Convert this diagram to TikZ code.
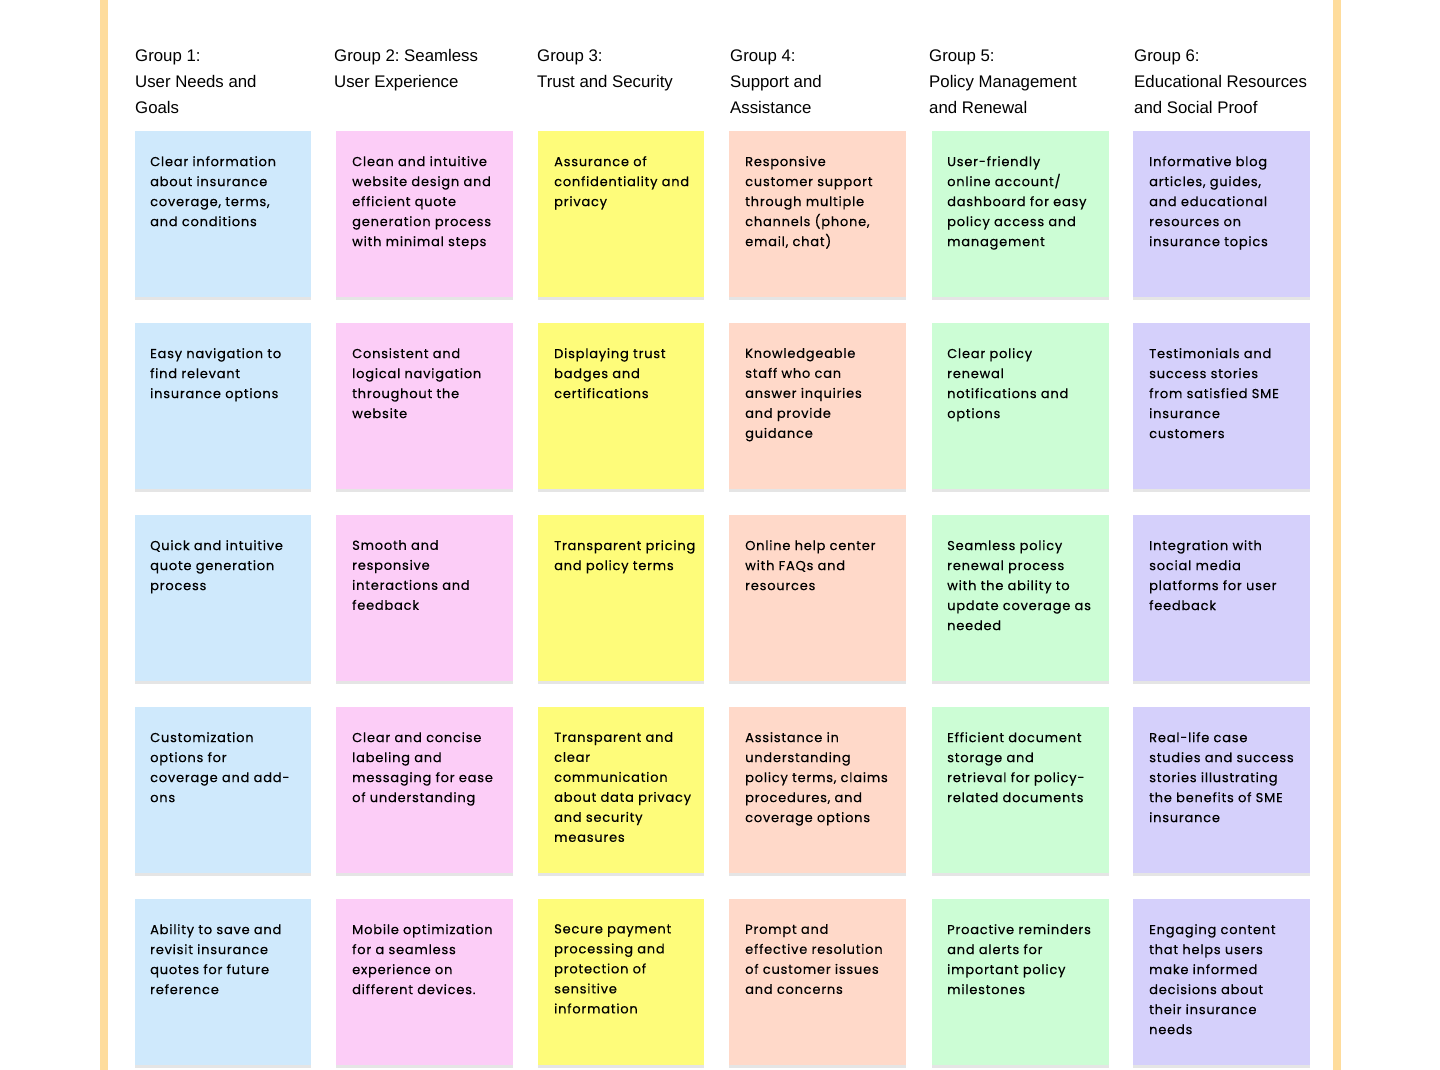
\documentclass[tikz,border=0pt]{standalone}
\usepackage{fontspec}
\setmainfont{Liberation Sans}
\newfontfamily\notefont[LetterSpace=6, FakeBold=0.35]{Poppins}
\usetikzlibrary{positioning, shadows}
\definecolor{barorange}{HTML}{FEDC9C}
\definecolor{noteblue}{HTML}{CFE9FC}
\definecolor{notepink}{HTML}{FCCDF7}
\definecolor{noteyellow}{HTML}{FEFC7A}
\definecolor{notepeach}{HTML}{FFD9C9}
\definecolor{notegreen}{HTML}{CCFDD5}
\definecolor{notepurple}{HTML}{D5D0FB}
\tikzset{
  sticky/.style={
    anchor=north west, minimum width=177pt, minimum height=166pt,
    inner sep=0pt, outer sep=0pt,
    drop shadow={shadow xshift=0pt, shadow yshift=-2.5pt, opacity=0.10, fill=black}
  },
  notetext/.style={
    inner sep=0pt, align=left, text=black,
    font=\notefont\fontsize{13}{20}\selectfont
  },
  grouphead/.style={
    anchor=north west, inner sep=0pt, align=left, text=black,
    font=\fontsize{16.8}{26}\selectfont
  },
}
\begin{document}
\frenchspacing
\begin{tikzpicture}[x=1pt, y=-1pt]
  \useasboundingbox (0,0) rectangle (1440,1070);
  \fill[white] (0,0) rectangle (1440,1070);
  \fill[barorange] (100,0) rectangle (108,1070);
  \fill[barorange] (1333,0) rectangle (1341,1070);

  % group titles
  \node[grouphead] (h1) at (135,49.5) {Group 1:\\User Needs and\\Goals};
  \node[grouphead] (h2) at (334,49.5) {Group 2: Seamless\\User Experience};
  \node[grouphead] (h3) at (537,49.5) {Group 3:\\Trust and Security};
  \node[grouphead] (h4) at (730,49.5) {Group 4:\\Support and\\Assistance};
  \node[grouphead] (h5) at (929,49.5) {Group 5:\\Policy Management\\and Renewal};
  \node[grouphead] (h6) at (1134,49.5) {Group 6:\\Educational Resources\\and Social Proof};

  % group 1
  \foreach \txt [count=\r] in {
      {Clear information\\about insurance\\coverage, terms,\\and conditions},
      {Easy navigation to\\find relevant\\insurance options},
      {Quick and intuitive\\quote generation\\process},
      {Customization\\options for\\coverage and add-\\ons},
      {Ability to save and\\revisit insurance\\quotes for future\\reference}} {
    \node[sticky, fill=noteblue, minimum width=176pt] (g1n\r) at (135,{131+192*(\r-1)}) {};
    \node[notetext, below right=25pt and 15pt of g1n\r.north west] (g1t\r) {\txt};
  }

  % group 2
  \foreach \txt [count=\r] in {
      {Clean and intuitive\\website design and\\efficient quote\\generation process\\with minimal steps},
      {Consistent and\\logical navigation\\throughout the\\website},
      {Smooth and\\responsive\\interactions and\\feedback},
      {Clear and concise\\labeling and\\messaging for ease\\of understanding},
      {Mobile optimization\\for a seamless\\experience on\\different devices.}} {
    \node[sticky, fill=notepink] (g2n\r) at (336,{131+192*(\r-1)}) {};
    \node[notetext, below right=25pt and 16pt of g2n\r.north west] (g2t\r) {\txt};
  }

  % group 3
  \foreach \txt [count=\r] in {
      {Assurance of\\confidentiality and\\privacy},
      {Displaying trust\\badges and\\certifications},
      {Transparent pricing\\and policy terms},
      {Transparent and\\clear\\communication\\about data privacy\\and security\\measures},
      {Secure payment\\processing and\\protection of\\sensitive\\information}} {
    \node[sticky, fill=noteyellow, minimum width=166pt] (g3n\r) at (538,{131+192*(\r-1)}) {};
    \node[notetext, below right=25pt and 16pt of g3n\r.north west] (g3t\r) {\txt};
  }

  % group 4
  \foreach \txt [count=\r] in {
      {Responsive\\customer support\\through multiple\\channels (phone,\\email, chat)},
      {Knowledgeable\\staff who can\\answer inquiries\\and provide\\guidance},
      {Online help center\\with FAQs and\\resources},
      {Assistance in\\understanding\\policy terms, claims\\procedures, and\\coverage options},
      {Prompt and\\effective resolution\\of customer issues\\and concerns}} {
    \node[sticky, fill=notepeach] (g4n\r) at (729,{131+192*(\r-1)}) {};
    \node[notetext, below right=25pt and 16pt of g4n\r.north west] (g4t\r) {\txt};
  }

  % group 5
  \foreach \txt [count=\r] in {
      {User-friendly\\online account/\\dashboard for easy\\policy access and\\management},
      {Clear policy\\renewal\\notifications and\\options},
      {Seamless policy\\renewal process\\with the ability to\\update coverage as\\needed},
      {Efficient document\\storage and\\retrieval for policy-\\related documents},
      {Proactive reminders\\and alerts for\\important policy\\milestones}} {
    \node[sticky, fill=notegreen] (g5n\r) at (932,{131+192*(\r-1)}) {};
    \node[notetext, below right=25pt and 15pt of g5n\r.north west] (g5t\r) {\txt};
  }

  % group 6
  \foreach \txt [count=\r] in {
      {Informative blog\\articles, guides,\\and educational\\resources on\\insurance topics},
      {Testimonials and\\success stories\\from satisfied SME\\insurance\\customers},
      {Integration with\\social media\\platforms for user\\feedback},
      {Real-life case\\studies and success\\stories illustrating\\the benefits of SME\\insurance},
      {Engaging content\\that helps users\\make informed\\decisions about\\their insurance\\needs}} {
    \node[sticky, fill=notepurple] (g6n\r) at (1133,{131+192*(\r-1)}) {};
    \node[notetext, below right=25pt and 16pt of g6n\r.north west] (g6t\r) {\txt};
  }
\end{tikzpicture}
\end{document}
